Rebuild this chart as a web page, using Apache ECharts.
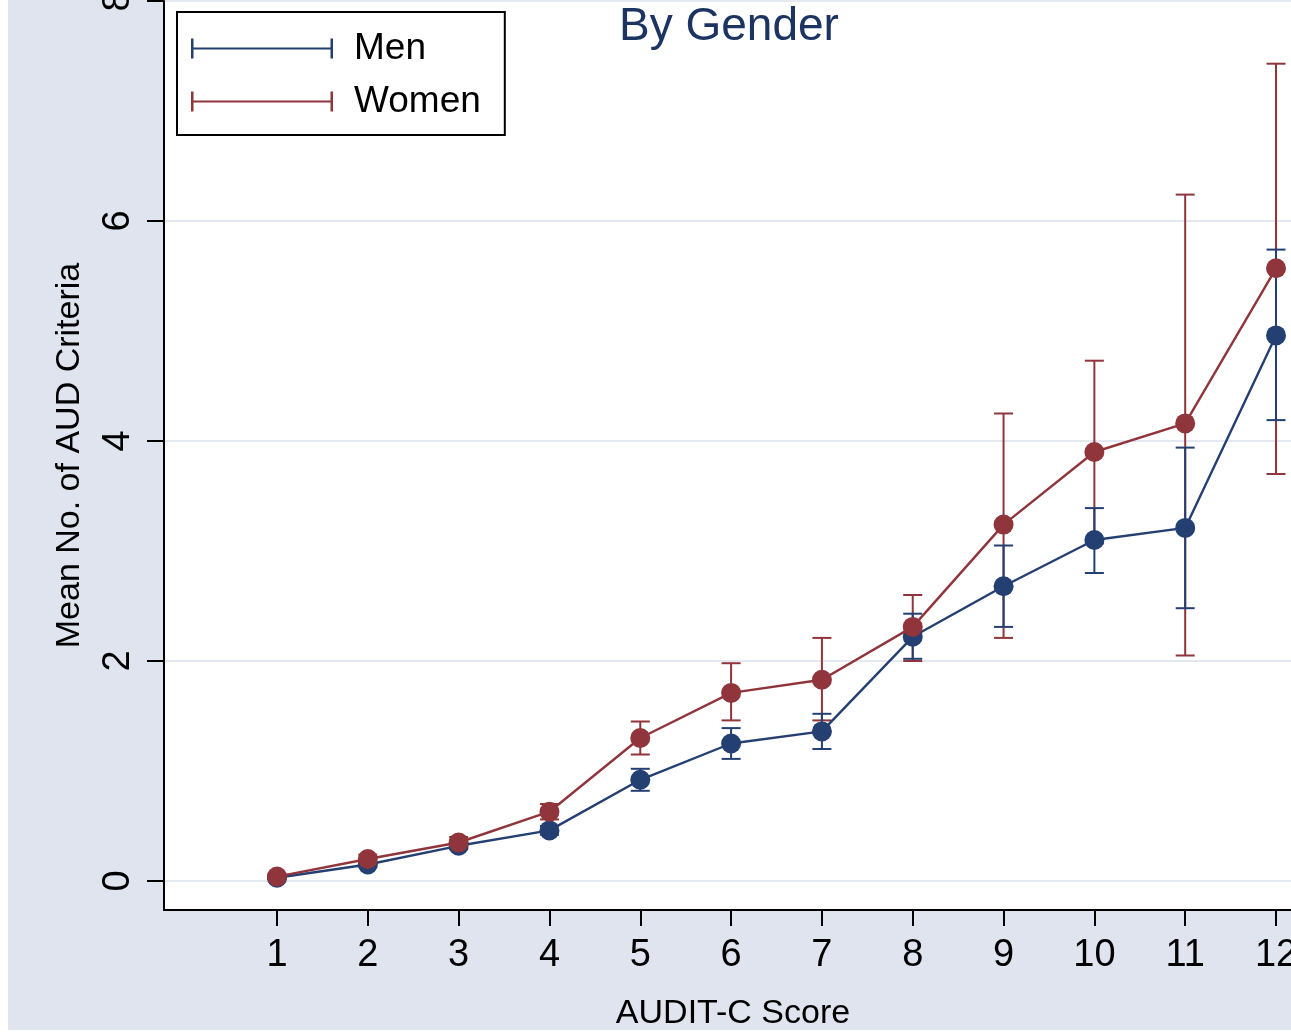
<!DOCTYPE html>
<html>
<head>
<meta charset="utf-8">
<script src="https://cdn.jsdelivr.net/npm/echarts@6/dist/echarts.min.js"></script>
<style>
html,body{margin:0;padding:0;background:#fff;}
#chart{width:1291px;height:1033px;}
</style>
</head>
<body>
<div id="chart"></div>
<script>
// ---- data ----
const scores = [1, 2, 3, 4, 5, 6, 7, 8, 9, 10, 11, 12];
const menMean   = [0.03, 0.15, 0.32, 0.46, 0.92, 1.25, 1.36, 2.22, 2.68, 3.10, 3.21, 4.96];
const menLow    = [0.02, 0.13, 0.29, 0.42, 0.82, 1.11, 1.20, 2.02, 2.31, 2.80, 2.48, 4.19];
const menHigh   = [0.04, 0.17, 0.35, 0.50, 1.02, 1.39, 1.52, 2.43, 3.05, 3.39, 3.94, 5.74];
const womenMean = [0.04, 0.20, 0.35, 0.63, 1.30, 1.71, 1.83, 2.31, 3.24, 3.90, 4.16, 5.57];
const womenLow  = [0.02, 0.16, 0.30, 0.56, 1.15, 1.46, 1.46, 2.00, 2.21, 3.07, 2.05, 3.70];
const womenHigh = [0.06, 0.24, 0.40, 0.70, 1.45, 1.98, 2.21, 2.60, 4.25, 4.73, 6.24, 7.43];
const yTicks = [0, 2, 4, 6, 8];
const xTicks = [1, 2, 3, 4, 5, 6, 7, 8, 9, 10, 11, 12];
const seriesNames = ['Men', 'Women'];
const chartTitle = 'By Gender';
const xTitle = 'AUDIT-C Score';
const yTitle = 'Mean No. of AUD Criteria';

const NAVY = '#243f72';
const MAROON = '#8f353b';
const FONT = '"Liberation Sans", Arial, sans-serif';

function pairs(a) { return scores.map((x, i) => [x, a[i]]); }
function bars(lo, hi) { return scores.map((x, i) => [x, lo[i], hi[i]]); }

function capRender(color) {
  return function (params, api) {
    const x = api.value(0);
    const pHi = api.coord([x, api.value(2)]);
    const pLo = api.coord([x, api.value(1)]);
    const hw = 9.5;
    const st = { stroke: color, lineWidth: 2, fill: null };
    return {
      type: 'group',
      children: [
        { type: 'line', shape: { x1: pHi[0], y1: pHi[1], x2: pLo[0], y2: pLo[1] }, style: st },
        { type: 'line', shape: { x1: pHi[0] - hw, y1: pHi[1], x2: pHi[0] + hw, y2: pHi[1] }, style: st },
        { type: 'line', shape: { x1: pLo[0] - hw, y1: pLo[1], x2: pLo[0] + hw, y2: pLo[1] }, style: st }
      ]
    };
  };
}

const icon = 'path://M0,0h2.5v20h-2.5z M139.5,0h2.5v20h-2.5z M0,9h142v2h-142z';

const chart = echarts.init(document.getElementById('chart'), null, { renderer: 'canvas' });
chart.setOption({
  backgroundColor: '#dfe4ef',
  animation: false,
  title: {
    text: chartTitle,
    left: 619,
    top: 4,
    padding: 0,
    textStyle: { fontFamily: FONT, fontSize: 46, fontWeight: 'normal', color: '#1c3461' }
  },
  legend: {
    left: 177,
    top: 12,
    orient: 'vertical',
    backgroundColor: '#ffffff',
    borderColor: '#000000',
    borderWidth: 2,
    borderRadius: 0,
    padding: [18, 24, 15, 14],
    itemGap: 16,
    itemWidth: 142,
    itemHeight: 20,
    icon: icon,
    itemStyle: { borderWidth: 0 },
    textStyle: { fontFamily: FONT, fontSize: 37, color: '#000', padding: [0, 0, 0, 16] },
    data: seriesNames
  },
  grid: {
    left: 164,
    right: 0,
    top: 1,
    bottom: 123,
    show: true,
    containLabel: false,
    outerBoundsMode: 'none',
    backgroundColor: '#ffffff',
    borderWidth: 0
  },
  xAxis: {
    type: 'value',
    min: -0.2442,
    max: 12.165,
    name: xTitle,
    nameLocation: 'middle',
    nameGap: 87,
    nameTextStyle: { fontFamily: FONT, fontSize: 34, color: '#000', padding: [0, 0, 0, 11] },
    axisLine: { show: true, onZero: false, lineStyle: { color: '#000', width: 2 } },
    axisTick: { show: true, length: 16, lineStyle: { color: '#000', width: 2 }, customValues: xTicks },
    axisLabel: { fontFamily: FONT, fontSize: 38, color: '#000', margin: 27, customValues: xTicks },
    splitLine: { show: false }
  },
  yAxis: {
    type: 'value',
    min: -0.2636,
    max: 8,
    name: yTitle,
    nameLocation: 'middle',
    nameRotate: 90,
    nameGap: 77,
    nameTextStyle: { fontFamily: FONT, fontSize: 34, color: '#000' },
    axisLine: { show: true, onZero: false, lineStyle: { color: '#000', width: 2 } },
    axisTick: { show: true, length: 17, lineStyle: { color: '#000', width: 2 }, customValues: yTicks },
    axisLabel: { fontFamily: FONT, fontSize: 38, color: '#000', margin: 26, rotate: 90, customValues: yTicks },
    splitLine: { show: true, lineStyle: { color: '#e3e8f1', width: 2 } }
  },
  graphic: [
    { type: 'rect', left: 0, top: 0, shape: { width: 8, height: 1033 }, style: { fill: '#ffffff' }, z: 100, silent: true },
    { type: 'rect', left: 0, top: 1030, shape: { width: 1291, height: 3 }, style: { fill: '#ffffff' }, z: 100, silent: true }
  ],
  series: [
    {
      type: 'custom', name: 'WomenCI', renderItem: capRender(MAROON),
      data: bars(womenLow, womenHigh), z: 2, encode: { x: 0, y: [1, 2] }, clip: false
    },
    {
      type: 'custom', name: 'MenCI', renderItem: capRender(NAVY),
      data: bars(menLow, menHigh), z: 3, encode: { x: 0, y: [1, 2] }, clip: false
    },
    {
      type: 'line', name: seriesNames[0], data: pairs(menMean), z: 4,
      symbol: 'circle', symbolSize: 20, showSymbol: true,
      itemStyle: { color: NAVY }, lineStyle: { color: NAVY, width: 2.4 }
    },
    {
      type: 'line', name: seriesNames[1], data: pairs(womenMean), z: 5,
      symbol: 'circle', symbolSize: 20, showSymbol: true,
      itemStyle: { color: MAROON }, lineStyle: { color: MAROON, width: 2.4 }
    }
  ]
});
</script>
</body>
</html>
